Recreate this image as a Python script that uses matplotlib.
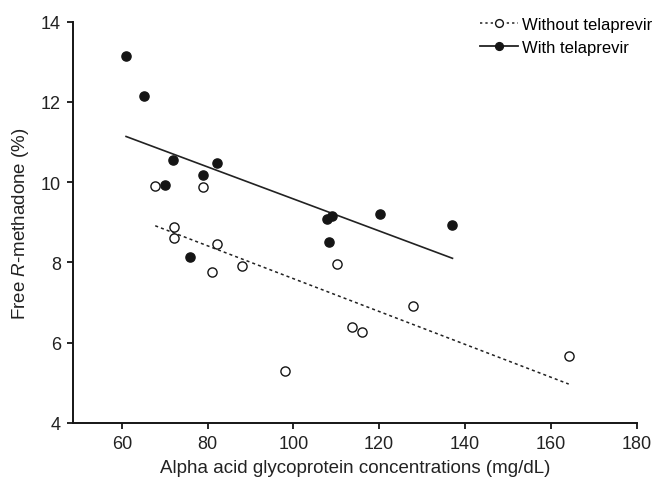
import numpy as np
import matplotlib
matplotlib.use("Agg")
import matplotlib.pyplot as plt

plt.rcParams['font.family'] = ['Liberation Sans', 'DejaVu Sans']
plt.rcParams['mathtext.fontset'] = 'custom'
plt.rcParams['mathtext.it'] = 'Liberation Sans:italic'
plt.rcParams['mathtext.rm'] = 'Liberation Sans'

# Without telaprevir (open circles)
x_without = [67.8, 79.0, 72.1, 72.1, 82.1, 81.1, 88.0, 110.1, 128.0, 113.7, 116.1, 98.0, 164.2]
y_without = [9.90, 9.88, 8.89, 8.60, 8.45, 7.77, 7.90, 7.97, 6.92, 6.38, 6.28, 5.30, 5.66]

# With telaprevir (filled circles)
x_with = [61.0, 65.1, 72.0, 70.1, 79.0, 82.1, 76.0, 107.8, 108.9, 108.2, 120.1, 137.1]
y_with = [13.15, 12.16, 10.56, 9.94, 10.17, 10.48, 8.14, 9.08, 9.16, 8.52, 9.21, 8.93]

x_ticks = [60, 80, 100, 120, 140, 160, 180]
y_ticks = [4, 6, 8, 10, 12, 14]

W, H = 655, 485
fig = plt.figure(figsize=(W / 100, H / 100), dpi=100)
ax = fig.add_axes([73.3 / W, 61 / H, (636.5 - 73.3) / W, (424 - 22.7) / H])

def fit_line(xs, ys):
    xs = np.asarray(xs); ys = np.asarray(ys)
    k, b = np.polyfit(xs, ys, 1)
    xx = np.array([xs.min(), xs.max()])
    return xx, k * xx + b

dark = '#151515'
MS = 6.6

xx, yy = fit_line(x_without, y_without)
ax.plot(xx, yy, color='#222222', lw=1.1, ls=(0, (2, 2)))
xx, yy = fit_line(x_with, y_with)
ax.plot(xx, yy, color='#222222', lw=1.2, ls='-')

ax.plot(x_without, y_without, ls='none', marker='o', ms=MS, mfc='white',
        mec=dark, mew=1.0, zorder=3)
ax.plot(x_with, y_with, ls='none', marker='o', ms=MS, mfc=dark,
        mec=dark, mew=1.0, zorder=3)

h1, = ax.plot([], [], color='#222222', lw=1.1, ls=(0, (1.5, 2)), marker='o', ms=MS,
              mfc='white', mec=dark, mew=1.0)
h2, = ax.plot([], [], color='#222222', lw=1.3, ls='-', marker='o', ms=MS,
              mfc=dark, mec=dark)
ax.legend([h1, h2], ['Without telaprevir', 'With telaprevir'], loc='upper left',
          bbox_to_anchor=(465 / W, 1 - 3 / H), bbox_transform=fig.transFigure,
          frameon=False, fontsize=12, markerscale=0.85,
          handlelength=2.25, handletextpad=0.25, labelspacing=0.45, borderpad=0.4)

ax.set_xlim(48.7, 180)
ax.set_ylim(4, 14)
ax.set_xticks(x_ticks)
ax.set_yticks(y_ticks)
ax.spines['top'].set_visible(False)
ax.spines['right'].set_visible(False)
for s in ['left', 'bottom']:
    ax.spines[s].set_linewidth(1.4)
    ax.spines[s].set_color(dark)
ax.tick_params(direction='out', length=4.2, width=1.3, labelsize=13, colors=dark,
               labelcolor='#222222')
ax.tick_params(axis='x', pad=4.5)
ax.tick_params(axis='y', pad=4.8)
ax.set_xlabel('Alpha acid glycoprotein concentrations (mg/dL)', fontsize=13.5,
              color='#222222', labelpad=5)
ax.set_ylabel('Free $\\it{R}$-methadone (%)', fontsize=13.5, color='#222222', labelpad=7)

fig.savefig('out.png', dpi=100)
